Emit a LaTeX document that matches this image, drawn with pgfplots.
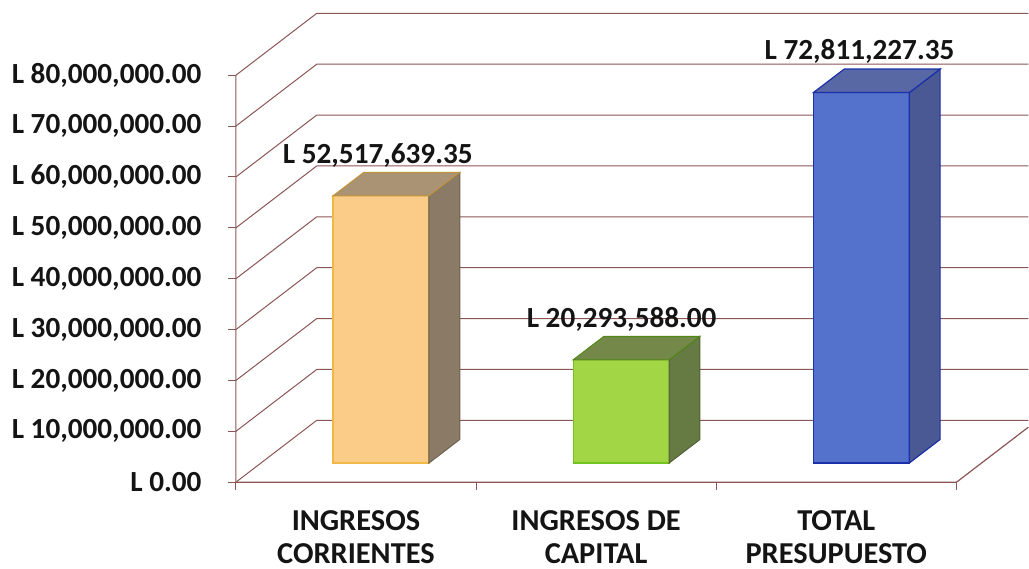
\documentclass[border=0pt]{standalone}
\usepackage{pgfplots}
\pgfplotsset{compat=1.18}
\usepackage{fontspec}
\setmainfont{Carlito}
\definecolor{gridc}{RGB}{140,85,85}
\definecolor{txt}{RGB}{20,20,20}
\definecolor{orF}{RGB}{251,203,136}
\definecolor{orE}{RGB}{240,185,70}
\definecolor{orS}{RGB}{138,122,102}
\definecolor{orT}{RGB}{170,146,116}
\definecolor{grF}{RGB}{163,214,68}
\definecolor{grE}{RGB}{115,195,30}
\definecolor{grS}{RGB}{102,122,68}
\definecolor{grT}{RGB}{116,136,74}
\definecolor{blF}{RGB}{84,114,204}
\definecolor{blE}{RGB}{28,48,170}
\definecolor{blS}{RGB}{74,88,148}
\definecolor{blT}{RGB}{88,104,164}
\begin{document}
\begin{tikzpicture}
\begin{axis}[
  scale only axis, width=396.5pt, height=241.25pt,
  xmin=0, xmax=793, ymin=0, ymax=94.79,
  enlargelimits=false, clip=false,
  axis lines*=left,
  axis line style={draw=none},
  tick align=outside,
  major tick length=4pt,
  tick style={gridc, line width=0.5pt},
  xtick={0,240.3,480.6,721}, xticklabels={},
  extra x ticks={120.15,360.45,600.75},
  extra x tick labels={{INGRESOS\\CORRIENTES},{INGRESOS DE\\CAPITAL},{TOTAL\\PRESUPUESTO}},
  extra x tick style={major tick length=0pt,
    xticklabel style={align=center, font=\fontsize{15.2}{16.5}\selectfont\bfseries, text=txt, anchor=north, inner sep=0pt, yshift=-14pt}},
  ytick={0,10,...,80},
  yticklabels={{L 0.00},{L 10,000,000.00},{L 20,000,000.00},{L 30,000,000.00},{L 40,000,000.00},{L 50,000,000.00},{L 60,000,000.00},{L 70,000,000.00},{L 80,000,000.00}},
  yticklabel style={font=\fontsize{14.6}{16}\selectfont\bfseries, text=txt, anchor=east, inner sep=0pt, xshift=-13pt},
]
% invisible bounding box of the whole picture
\path (axis cs:-236,-16.99) rectangle (axis cs:793,94.79);

% gridlines: side wall + back wall
\addplot[gridc, line width=0.5pt] coordinates {(0,0)(81,12.18)(793,12.18)};
\addplot[gridc, line width=0.5pt] coordinates {(0,10)(81,22.18)(793,22.18)};
\addplot[gridc, line width=0.5pt] coordinates {(0,20)(81,32.18)(793,32.18)};
\addplot[gridc, line width=0.5pt] coordinates {(0,30)(81,42.18)(793,42.18)};
\addplot[gridc, line width=0.5pt] coordinates {(0,40)(81,52.18)(793,52.18)};
\addplot[gridc, line width=0.5pt] coordinates {(0,50)(81,62.18)(793,62.18)};
\addplot[gridc, line width=0.5pt] coordinates {(0,60)(81,72.18)(793,72.18)};
\addplot[gridc, line width=0.5pt] coordinates {(0,70)(81,82.18)(793,82.18)};
\addplot[gridc, line width=0.5pt] coordinates {(0,80)(81,92.18)(793,92.18)};
% front axes
\addplot[gridc, line width=0.6pt] coordinates {(0,80)(0,0)(721,0)(793,10.83)};

% bar 1: INGRESOS CORRIENTES 52,517,639.35
\addplot[fill=orF, draw=orE, line width=0.6pt] coordinates {(97.25,3.78)(193.25,3.78)(193.25,56.30)(97.25,56.30)} -- cycle;
\addplot[fill=orS, draw=orS!80!black, line width=0.5pt] coordinates {(193.25,3.78)(224.05,8.40)(224.05,60.92)(193.25,56.30)} -- cycle;
\addplot[fill=orT, draw=orE!80!black, line width=0.5pt] coordinates {(97.25,56.30)(193.25,56.30)(224.05,60.92)(128.05,60.92)} -- cycle;
% bar 2: INGRESOS DE CAPITAL 20,293,588.00
\addplot[fill=grF, draw=grE, line width=0.6pt] coordinates {(337.55,3.78)(433.55,3.78)(433.55,24.07)(337.55,24.07)} -- cycle;
\addplot[fill=grS, draw=grS!80!black, line width=0.5pt] coordinates {(433.55,3.78)(464.35,8.40)(464.35,28.69)(433.55,24.07)} -- cycle;
\addplot[fill=grT, draw=grE!70!black, line width=0.5pt] coordinates {(337.55,24.07)(433.55,24.07)(464.35,28.69)(368.35,28.69)} -- cycle;
% bar 3: TOTAL PRESUPUESTO 72,811,227.35
\addplot[fill=blF, draw=blE, line width=0.8pt] coordinates {(577.85,3.78)(673.85,3.78)(673.85,76.59)(577.85,76.59)} -- cycle;
\addplot[fill=blS, draw=blE, line width=0.6pt] coordinates {(673.85,3.78)(704.65,8.40)(704.65,81.21)(673.85,76.59)} -- cycle;
\addplot[fill=blT, draw=blE, line width=0.6pt] coordinates {(577.85,76.59)(673.85,76.59)(704.65,81.21)(608.65,81.21)} -- cycle;

% data labels
\addplot[draw=none, nodes near coords, point meta=explicit symbolic,
  nodes near coords style={font=\fontsize{14.6}{16}\selectfont\bfseries, text=txt, anchor=base, inner sep=0pt, yshift=26pt}]
  coordinates {(142,52.517639)[L 52,517,639.35] (386,20.293588)[L 20,293,588.00] (624,72.811227)[L 72,811,227.35]};
\end{axis}
\end{tikzpicture}
\end{document}
